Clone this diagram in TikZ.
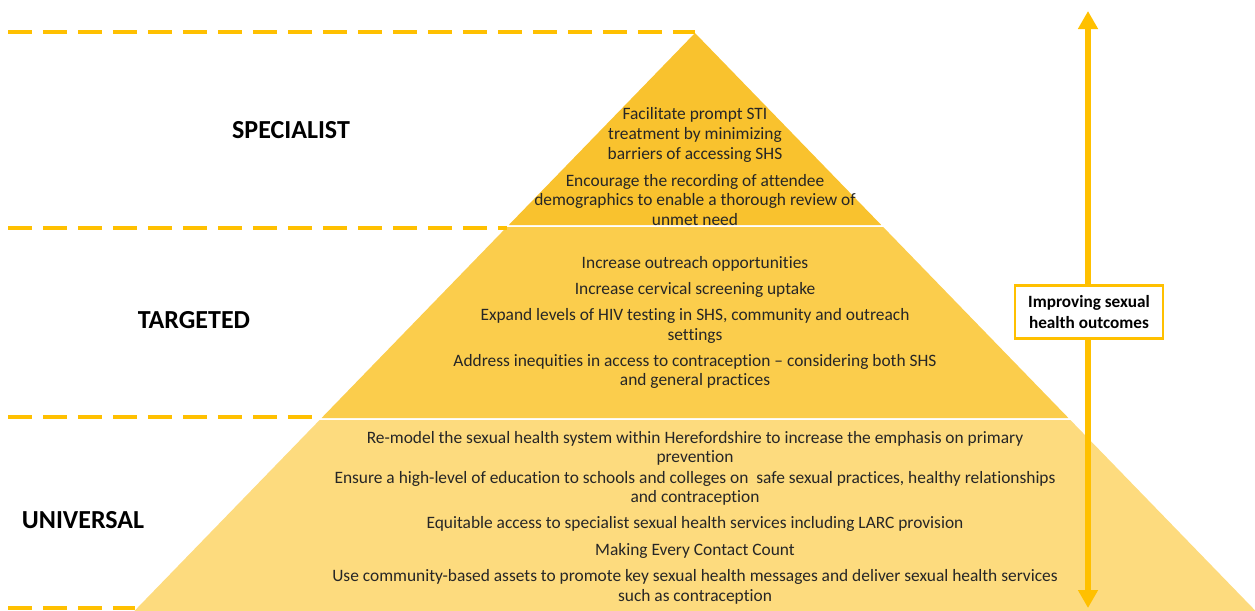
\documentclass[tikz,border=0pt]{standalone}
\usepackage{fontspec}
\setmainfont{Carlito}[Ligatures=NoCommon]
\usepackage{tikz}
\usetikzlibrary{arrows.meta}

\definecolor{gold}{HTML}{FFC000}
\definecolor{tierA}{HTML}{F9C22E}
\definecolor{tierB}{HTML}{FBCD4C}
\definecolor{tierC}{HTML}{FDDB7E}
\definecolor{ink}{HTML}{262626}

\begin{document}
\begin{tikzpicture}
	[x=0.02cm, y=-0.02cm,
	level/.style={font=\fontsize{14.8}{17}\selectfont\bfseries, text=black},
	aim/.style={align=center, text=ink, font=\fontsize{9.9}{11.2}\selectfont, inner sep=0pt},
	guide/.style={gold, line width=2.3pt, dash pattern=on 0.48cm off 0.22cm},
	goalbox/.style={draw=gold, line width=1.2pt, fill=white, align=center, minimum width=2.96cm, minimum height=1.06cm, font=\fontsize{9.8}{11.5}\selectfont\bfseries}]
	\useasboundingbox (0,0) rectangle (1255,610);

	%pyramid tiers, apex at (695,33)
	\begin{scope}
		\clip (0,0) rectangle (1255,610);
		\foreach \t/\b/\c in {33/225/tierA, 227/418/tierB, 420/640/tierC}{
			\fill[\c] ({695-0.97*(\t-33)},\t) -- ({695+0.97*(\t-33)},\t)
				-- ({695+0.97*(\b-33)},\b) -- ({695-0.97*(\b-33)},\b) -- cycle;
		}
	\end{scope}

	%dashed level lines
	\draw[guide] (8,32) -- (695,32);
	\draw[guide] (8,228) -- (507,228);
	\draw[guide] (8,417) -- (321,417);
	\draw[guide] (8,608) -- (135,608);

	%level names
	\node[level] (specialist) at (291,130) {SPECIALIST};
	\node[level] (targeted) at (194,320) {TARGETED};
	\node[level] (universal) at (83,520) {UNIVERSAL};

	%specialist
	\node[aim] (s1) at (695,135) {Facilitate prompt STI\\treatment by minimizing\\barriers of accessing SHS};
	\node[aim] (s2) at (695,200) {Encourage the recording of attendee\\demographics to enable a thorough review of\\unmet need};

	%targeted
	\node[aim] (t1) at (695,264) {Increase outreach opportunities};
	\node[aim] (t2) at (695,290) {Increase cervical screening uptake};
	\node[aim] (t3) at (695,326) {Expand levels of HIV testing in SHS, community and outreach\\settings};
	\node[aim] (t4) at (695,371.5) {Address inequities in access to contraception -- considering both SHS\\and general practices};

	%universal
	\node[aim] (u1) at (695,448.5) {Re-model the sexual health system within Herefordshire to increase the emphasis on primary\\prevention};
	\node[aim] (u2) at (695,488.5) {Ensure a high-level of education to schools and colleges on\ \ safe sexual practices, healthy relationships\\and contraception};
	\node[aim] (u3) at (695,524) {Equitable access to specialist sexual health services including LARC provision};
	\node[aim] (u4) at (695,551) {Making Every Contact Count};
	\node[aim] (u5) at (695,587) {Use community-based assets to promote key sexual health messages and deliver sexual health services\\such as contraception};

	%outcome arrow
	\coordinate (arrowtop) at (1088,11);
	\coordinate (arrowbot) at (1088,608);
	\draw[gold, line width=3.4pt, {Triangle[length=0.36cm,width=0.38cm]}-{Triangle[length=0.36cm,width=0.38cm]}] (arrowbot) -- (arrowtop);
	\node[goalbox] (outcome) at (1089,312) {Improving sexual\\health outcomes};
\end{tikzpicture}
\end{document}
